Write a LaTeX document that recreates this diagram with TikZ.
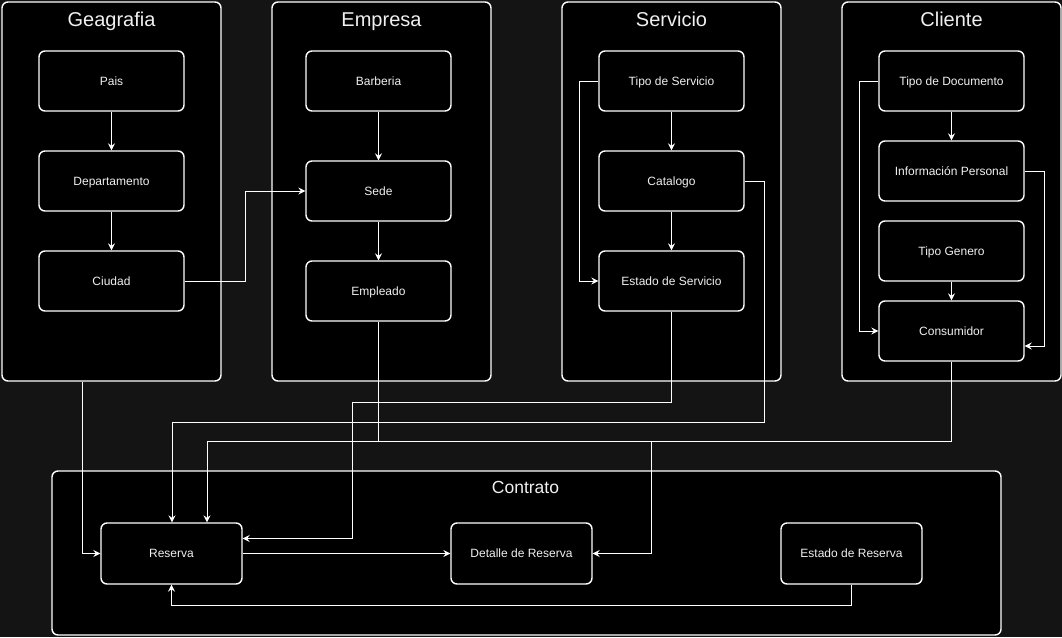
\documentclass[tikz,border=0pt]{standalone}
\usepackage{xcolor}
\usepackage{fontspec}
\setmainfont{Liberation Sans}
\usepackage{tikz}
\usetikzlibrary{arrows.meta}
\definecolor{bgdark}{RGB}{20,20,20}
\definecolor{txtlight}{RGB}{240,240,240}
\tikzset{
	group/.style={shape=rectangle, draw=white, fill=black, line width=1.4pt, rounded corners=6pt, inner sep=0},
	entity/.style={shape=rectangle, draw=white, fill=black, line width=1.4pt, rounded corners=6pt, inner sep=0, minimum width=145pt, minimum height=60pt, text=txtlight, font=\fontsize{12}{14}\selectfont, text height=8.6pt, text depth=0pt},
	title/.style={anchor=base, text=txtlight, inner sep=0, font=\fontsize{20}{24}\selectfont},
	conn/.style={draw=white, line width=0.8pt, -{Stealth[length=7pt, width=7pt, inset=2.5pt]}},
}
\begin{document}
\begin{tikzpicture}[x=1pt, y=-1pt]
	% Groups, entities and connectors:
	\fill[bgdark] (0, 0) rectangle (1062, 637);
	\useasboundingbox (0, 0) rectangle (1062, 637);
	\node[group, minimum width=219pt, minimum height=379pt] (Geo) at (111.5, 191.5) {};
	\node[title] (GeoT) at (111.5, 27) {Geagrafia};
	\node[group, minimum width=219pt, minimum height=379pt] (Emp) at (381.5, 191.5) {};
	\node[title] (EmpT) at (381.5, 27) {Empresa};
	\node[group, minimum width=219pt, minimum height=379pt] (Serv) at (671.5, 191.5) {};
	\node[title] (ServT) at (671.5, 27) {Servicio};
	\node[group, minimum width=219pt, minimum height=379pt] (Cli) at (951.5, 191.5) {};
	\node[title] (CliT) at (951.5, 27) {Cliente};
	\node[group, minimum width=949pt, minimum height=164pt] (Con) at (526.5, 553) {};
	\node[title, font=\fontsize{17.5}{21}\selectfont] (ConT) at (525.5, 493) {Contrato};
	\node[entity] (Pais) at (111.5, 81) {Pais};
	\node[entity] (Depto) at (111.5, 181) {Departamento};
	\node[entity] (Ciudad) at (111.5, 281) {Ciudad};
	\node[entity] (Barberia) at (378.5, 81) {Barberia};
	\node[entity] (Sede) at (378.5, 191) {Sede};
	\node[entity] (Empleado) at (378.5, 291) {Empleado};
	\node[entity] (TipoServ) at (671.5, 81) {Tipo de Servicio};
	\node[entity] (Catalogo) at (671.5, 181) {Catalogo};
	\node[entity] (EstServ) at (671.5, 281) {Estado de Servicio};
	\node[entity] (TipoDoc) at (951.5, 81) {Tipo de Documento};
	\node[entity] (InfoPer) at (951.5, 171) {Información Personal};
	\node[entity] (TipoGen) at (951.5, 251) {Tipo Genero};
	\node[entity] (Consum) at (951.5, 331) {Consumidor};
	\node[entity, minimum width=141pt, minimum height=61pt] (Reserva) at (171.5, 553.5) {Reserva};
	\node[entity, minimum width=141pt, minimum height=61pt] (Detalle) at (521.5, 553.5) {Detalle de Reserva};
	\node[entity, minimum width=141pt, minimum height=61pt] (EstRes) at (851.5, 553.5) {Estado de Reserva};
	\draw[conn] (Pais) -- (Depto);
	\draw[conn] (Depto) -- (Ciudad);
	\draw[conn] (Ciudad.east) -- ++(61, 0) |- (Sede.west);
	\draw[conn] (Barberia) -- (Sede);
	\draw[conn] (Sede) -- (Empleado);
	\draw[conn] (TipoServ) -- (Catalogo);
	\draw[conn] (Catalogo) -- (EstServ);
	\draw[conn] (TipoServ.west) -- ++(-19, 0) |- (EstServ.west);
	\draw[conn] (TipoDoc) -- (InfoPer);
	\draw[conn] (TipoGen) -- (Consum);
	\draw[conn] (TipoDoc.west) -- ++(-19, 0) |- (Consum.west);
	\draw[conn] (InfoPer.east) -- ++(20, 0) |- ([yshift=-15pt]Consum.east);
	\draw[conn] ([xshift=-29.5pt]Geo.south) |- (Reserva.west);
	\draw[conn] (EstServ.south) -- ++(0, 91) -- ++(-319.5, 0) |- ([yshift=15pt]Reserva.east);
	\draw[conn] (Catalogo.east) -- ++(20, 0) -- ++(0, 241) -| ([xshift=0.5pt]Reserva.north);
	\draw[conn] (Consum.south) -- ++(0, 80) -| ([xshift=35.5pt]Reserva.north);
	\draw[conn] (Empleado.south) -- ++(0, 120) -- ++(272.5, 0) |- (Detalle.east);
	\draw[conn] (Reserva) -- (Detalle);
	\draw[conn] (EstRes.south) -- ++(0, 21) -| (Reserva.south);
\end{tikzpicture}
\end{document}
